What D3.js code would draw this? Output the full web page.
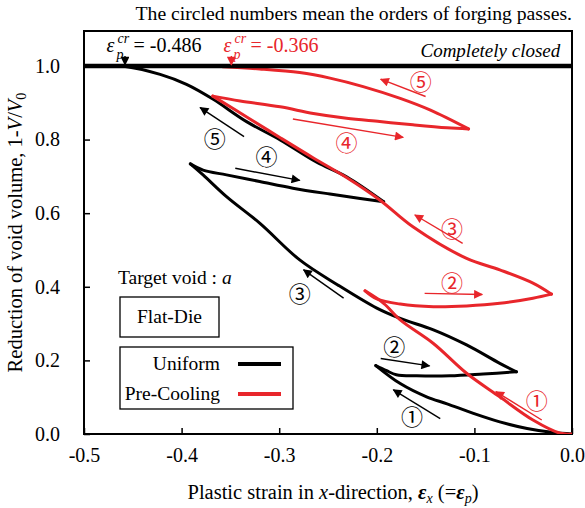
<!DOCTYPE html>
<html>
<head>
    <meta charset="utf-8">
    <title>Void closure</title>
    <style>
        body { margin: 0; background: #fff; }
        svg text { font-family: "Liberation Serif", "Times New Roman", serif; fill: #000; }
        .curve { fill: none; stroke-width: 3px; stroke-linecap: round; stroke-linejoin: round; }
        .axis path, .axis line { stroke: #000; stroke-width: 1.5px; }
        .axis text { font-size: 20px; font-family: "Liberation Serif", serif; }
        .circ { font-family: "Liberation Serif", "Noto Sans CJK JP", serif; font-size: 22px; text-anchor: middle; }
    </style>
</head>
<body>
    <script src="https://d3js.org/d3.v7.min.js"></script>
    <script>
        const width = 585;
        const height = 508;

        // tick values
        const xTicks = [-0.5, -0.4, -0.3, -0.2, -0.1, 0.0];
        const yTicks = [0.0, 0.2, 0.4, 0.6, 0.8, 1.0];

        // Uniform (black), one array per forging pass
        const uniformPass1 = [[0, 0], [-0.019, 0.004], [-0.046, 0.015], [-0.074, 0.033], [-0.101, 0.056],
            [-0.128, 0.082], [-0.149, 0.101], [-0.176, 0.137], [-0.201, 0.186]];
        const uniformPass2 = [[-0.201, 0.186], [-0.190, 0.172], [-0.180, 0.161], [-0.159, 0.158],
            [-0.125, 0.158], [-0.091, 0.163], [-0.057, 0.169]];
        const uniformPass3 = [[-0.057, 0.169], [-0.074, 0.192], [-0.108, 0.242], [-0.142, 0.283],
            [-0.176, 0.314], [-0.200, 0.342], [-0.240, 0.405], [-0.279, 0.473], [-0.320, 0.573],
            [-0.354, 0.645], [-0.378, 0.704], [-0.391, 0.734]];
        const uniformPass4 = [[-0.391, 0.734], [-0.378, 0.717], [-0.354, 0.704], [-0.320, 0.686],
            [-0.286, 0.668], [-0.248, 0.652], [-0.217, 0.640], [-0.193, 0.631]];
        const uniformPass5 = [[-0.193, 0.631], [-0.231, 0.699], [-0.262, 0.739], [-0.299, 0.799],
            [-0.333, 0.848], [-0.368, 0.910], [-0.395, 0.950], [-0.422, 0.977], [-0.456, 0.998],
            [-0.481, 1.0]];

        // Pre-Cooling (red)
        const coolPass1 = [[0, 0], [-0.012, 0.002], [-0.040, 0.038], [-0.074, 0.101], [-0.108, 0.165],
            [-0.142, 0.246], [-0.176, 0.310], [-0.193, 0.355], [-0.212, 0.389]];
        const coolPass2 = [[-0.212, 0.389], [-0.200, 0.367], [-0.176, 0.353], [-0.142, 0.346],
            [-0.108, 0.348], [-0.074, 0.355], [-0.040, 0.369], [-0.021, 0.380]];
        const coolPass3 = [[-0.021, 0.380], [-0.040, 0.410], [-0.074, 0.446], [-0.108, 0.477],
            [-0.163, 0.563], [-0.197, 0.636], [-0.231, 0.697], [-0.265, 0.750], [-0.299, 0.805],
            [-0.330, 0.856], [-0.368, 0.918]];
        const coolPass4 = [[-0.368, 0.918], [-0.340, 0.905], [-0.299, 0.889], [-0.265, 0.871],
            [-0.231, 0.858], [-0.197, 0.849], [-0.163, 0.840], [-0.128, 0.832], [-0.106, 0.829]];
        const coolPass5 = [[-0.106, 0.829], [-0.145, 0.880], [-0.176, 0.912], [-0.214, 0.944],
            [-0.248, 0.967], [-0.279, 0.982], [-0.320, 0.992], [-0.358, 0.998]];

        // pass arrows: [x1, y1, x2, y2] and circled-number label [x, y]
        const passLabels = ["\u2460", "\u2461", "\u2462", "\u2463", "\u2464"];
        const uniformArrows = [[-0.135, 0.042, -0.183, 0.120], [-0.196, 0.205, -0.146, 0.185],
            [-0.234, 0.369, -0.275, 0.446], [-0.345, 0.722, -0.279, 0.689], [-0.336, 0.808, -0.381, 0.887]];
        const uniformLabelPos = [[-0.164, 0.047], [-0.182, 0.235], [-0.279, 0.380], [-0.313, 0.752], [-0.366, 0.800]];
        const coolArrows = [[-0.031, 0.038, -0.078, 0.115], [-0.151, 0.382, -0.092, 0.379],
            [-0.112, 0.518, -0.161, 0.595], [-0.286, 0.856, -0.173, 0.806], [-0.150, 0.917, -0.196, 0.964]];
        const coolLabelPos = [[-0.036, 0.090], [-0.123, 0.410], [-0.123, 0.557], [-0.231, 0.790], [-0.155, 0.955]];

        // critical strain markers
        const critLabels = ["-0.486", "-0.366"];
        const critArrowX = [-0.458, -0.349];

        const margin = { top: 31, right: 13, bottom: 74, left: 84 };
        const xScale = d3.scaleLinear().domain([-0.5, 0]).range([margin.left, width - margin.right]);
        const yScale = d3.scaleLinear().domain([0, 1.095]).range([height - margin.bottom, margin.top]);

        const svg = d3.select("body").append("svg")
            .attr("width", width)
            .attr("height", height);

        const defs = svg.append("defs");
        [["headK", "#000"], ["headR", "#e8262b"]].forEach(([id, c]) => {
            defs.append("marker")
                .attr("id", id)
                .attr("viewBox", "0 0 10 10")
                .attr("refX", 9).attr("refY", 5)
                .attr("markerWidth", 11).attr("markerHeight", 9)
                .attr("markerUnits", "userSpaceOnUse")
                .attr("orient", "auto")
                .append("path")
                .attr("d", "M0,0 L10,5 L0,10 Z")
                .attr("fill", c);
        });

        // axes with inward ticks
        svg.append("g")
            .attr("class", "axis")
            .attr("transform", `translate(0,${yScale(0)})`)
            .call(d3.axisBottom(xScale).tickValues(xTicks).tickSize(-6).tickPadding(14)
                .tickFormat(d => d.toFixed(1)))
            .call(g => g.select(".domain").remove());

        svg.append("g")
            .attr("class", "axis")
            .attr("transform", `translate(${margin.left},0)`)
            .call(d3.axisLeft(yScale).tickValues(yTicks).tickSize(-6).tickPadding(24)
                .tickFormat(d => d.toFixed(1)))
            .call(g => g.select(".domain").remove());

        // frame
        svg.append("rect")
            .attr("x", margin.left).attr("y", margin.top)
            .attr("width", width - margin.left - margin.right)
            .attr("height", height - margin.top - margin.bottom)
            .attr("fill", "none").attr("stroke", "#000").attr("stroke-width", 2);

        const line = d3.line()
            .x(d => xScale(d[0]))
            .y(d => yScale(d[1]))
            .curve(d3.curveCatmullRom.alpha(0.5));

        const clip = defs.append("clipPath").attr("id", "plotClip");
        clip.append("rect").attr("x", margin.left).attr("y", margin.top)
            .attr("width", width - margin.left - margin.right)
            .attr("height", height - margin.top - margin.bottom);

        const plot = svg.append("g").attr("clip-path", "url(#plotClip)");

        [uniformPass1, uniformPass2, uniformPass3, uniformPass4, uniformPass5].forEach(p => {
            plot.append("path").attr("class", "curve").attr("stroke", "#000").attr("d", line(p));
        });
        [coolPass1, coolPass2, coolPass3, coolPass4, coolPass5].forEach(p => {
            plot.append("path").attr("class", "curve").attr("stroke", "#e8262b").attr("d", line(p));
        });

        // completely closed line
        svg.append("line")
            .attr("x1", margin.left).attr("x2", width - margin.right)
            .attr("y1", yScale(1)).attr("y2", yScale(1))
            .attr("stroke", "#000").attr("stroke-width", 4.5);

        svg.append("text")
            .attr("x", xScale(-0.012)).attr("y", yScale(1) - 9)
            .attr("text-anchor", "end")
            .style("font-size", "19px").style("font-style", "italic")
            .text("Completely closed");

        // pass arrows
        function drawArrows(arrows, labels, color, marker) {
            svg.append("g").selectAll("line").data(arrows).join("line")
                .attr("x1", d => xScale(d[0])).attr("y1", d => yScale(d[1]))
                .attr("x2", d => xScale(d[2])).attr("y2", d => yScale(d[3]))
                .attr("stroke", color).attr("stroke-width", 1.4)
                .attr("marker-end", `url(#${marker})`);
            svg.append("g").selectAll("text").data(labels).join("text")
                .attr("class", "circ")
                .attr("x", d => xScale(d[0])).attr("y", d => yScale(d[1]))
                .attr("dy", "0.36em")
                .style("fill", color)
                .text((d, i) => passLabels[i]);
        }
        drawArrows(uniformArrows, uniformLabelPos, "#000", "headK");
        drawArrows(coolArrows, coolLabelPos, "#e8262b", "headR");

        // critical strain annotations
        const critColors = ["#000", "#e8262b"];
        const critTextX = [-0.477, -0.357];
        critLabels.forEach((lab, i) => {
            const c = critColors[i];
            const ax = xScale(critArrowX[i]);
            const tx = xScale(critTextX[i]);
            const base = yScale(1) - 14;
            svg.append("line")
                .attr("x1", ax).attr("x2", ax)
                .attr("y1", yScale(1) - 10).attr("y2", yScale(1) - 1)
                .attr("stroke", c).attr("stroke-width", 1.4)
                .attr("marker-end", `url(#${i ? "headR" : "headK"})`);
            svg.append("text").attr("x", tx).attr("y", base)
                .style("font-size", "20px").style("font-style", "italic").style("fill", c)
                .text("\u03b5");
            svg.append("text").attr("x", tx + 11).attr("y", base - 9)
                .style("font-size", "14px").style("font-style", "italic").style("fill", c)
                .text("cr");
            svg.append("text").attr("x", tx + 10).attr("y", base + 7)
                .style("font-size", "14px").style("font-style", "italic").style("fill", c)
                .text("p");
            svg.append("text").attr("x", tx + 27).attr("y", base)
                .style("font-size", "20px").style("fill", c)
                .text("= " + lab);
        });

        // title
        svg.append("text")
            .attr("x", width - margin.right).attr("y", 20)
            .attr("text-anchor", "end")
            .style("font-size", "19.7px")
            .text("The circled numbers mean the orders of forging passes.");

        // axis labels
        const xl = svg.append("text")
            .attr("x", (margin.left + width - margin.right) / 2 + 5).attr("y", 499)
            .attr("text-anchor", "middle")
            .style("font-size", "20.5px");
        xl.append("tspan").text("Plastic strain in ");
        xl.append("tspan").style("font-style", "italic").text("x");
        xl.append("tspan").text("-direction, ");
        xl.append("tspan").style("font-style", "italic").style("font-weight", "bold").text("\u03b5");
        xl.append("tspan").style("font-style", "italic").style("font-size", "14px").attr("dy", 4).text("x");
        xl.append("tspan").attr("dy", -4).text(" (=");
        xl.append("tspan").style("font-style", "italic").style("font-weight", "bold").text("\u03b5");
        xl.append("tspan").style("font-style", "italic").style("font-size", "14px").attr("dy", 4).text("p");
        xl.append("tspan").attr("dy", -4).text(")");

        const yl = svg.append("text")
            .attr("transform", `translate(22,${(margin.top + height - margin.bottom) / 2 + 0}) rotate(-90)`)
            .attr("text-anchor", "middle")
            .style("font-size", "20.5px");
        yl.append("tspan").text("Reduction of void volume, 1-");
        yl.append("tspan").style("font-style", "italic").text("V");
        yl.append("tspan").text("/");
        yl.append("tspan").style("font-style", "italic").text("V");
        yl.append("tspan").style("font-size", "14px").attr("dy", 4).text("0");

        // target void text
        const tv = svg.append("text").attr("x", 118).attr("y", 284).style("font-size", "19.5px");
        tv.append("tspan").text("Target void : ");
        tv.append("tspan").style("font-style", "italic").text("a");

        // Flat-Die box
        svg.append("rect").attr("x", 120).attr("y", 297).attr("width", 99).attr("height", 40)
            .attr("fill", "#fff").attr("stroke", "#000").attr("stroke-width", 1.3);
        svg.append("text").attr("x", 169.5).attr("y", 323).attr("text-anchor", "middle")
            .style("font-size", "19.5px").text("Flat-Die");

        // legend
        const seriesNames = ["Uniform", "Pre-Cooling"];
        const seriesColors = ["#000", "#e8262b"];
        svg.append("rect").attr("x", 120).attr("y", 347).attr("width", 173).attr("height", 62)
            .attr("fill", "#fff").attr("stroke", "#000").attr("stroke-width", 1.3);
        seriesNames.forEach((n, i) => {
            const yy = 364 + i * 30;
            svg.append("text").attr("x", 220).attr("y", yy + 6).attr("text-anchor", "end")
                .style("font-size", "19.5px").text(n);
            svg.append("line").attr("x1", 238).attr("x2", 281).attr("y1", yy).attr("y2", yy)
                .attr("stroke", seriesColors[i]).attr("stroke-width", 4);
        });
    </script>
</body>
</html>
